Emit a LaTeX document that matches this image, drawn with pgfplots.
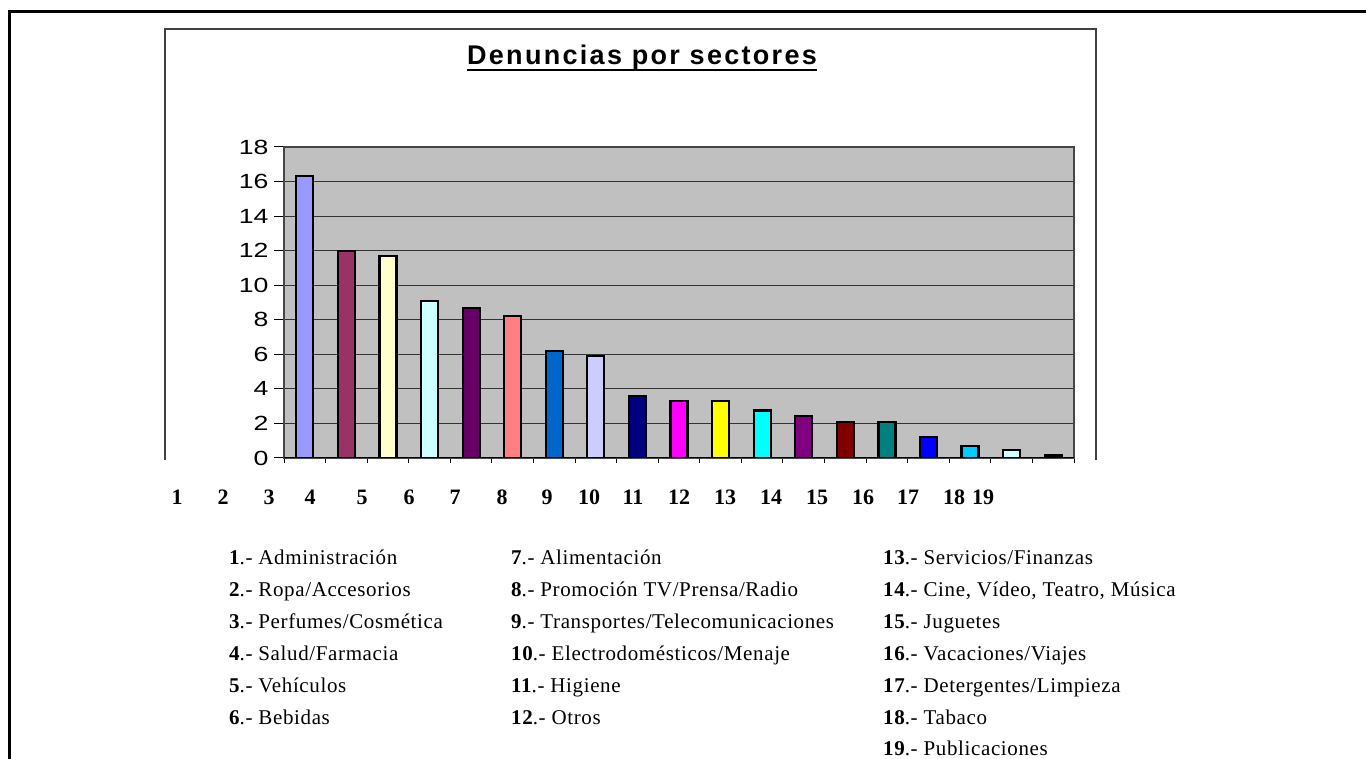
\documentclass[border=0pt]{standalone}
\usepackage{fontspec}
\setmainfont{Liberation Serif}
\newfontfamily\titlef[LetterSpace=8.5]{Liberation Sans}
\newfontfamily\tickf[FakeStretch=1.3]{Liberation Sans}
\newfontfamily\legf[LetterSpace=3]{Liberation Serif}
\usepackage{pgfplots}
\pgfplotsset{compat=1.18}
\definecolor{chartgray}{HTML}{C0C0C0}
\definecolor{c1}{HTML}{9999FF}
\definecolor{c2}{HTML}{993366}
\definecolor{c3}{HTML}{FFFFCC}
\definecolor{c4}{HTML}{CCFFFF}
\definecolor{c5}{HTML}{660066}
\definecolor{c6}{HTML}{FF8080}
\definecolor{c7}{HTML}{0066CC}
\definecolor{c8}{HTML}{CCCCFF}
\definecolor{c9}{HTML}{000080}
\definecolor{c10}{HTML}{FF00FF}
\definecolor{c11}{HTML}{FFFF00}
\definecolor{c12}{HTML}{00FFFF}
\definecolor{c13}{HTML}{800080}
\definecolor{c14}{HTML}{800000}
\definecolor{c15}{HTML}{008080}
\definecolor{c16}{HTML}{0000FF}
\definecolor{c17}{HTML}{00CCFF}
\definecolor{c18}{HTML}{CCFFFF}
\definecolor{c19}{HTML}{000000}
\begin{document}
\begin{tikzpicture}
\path[use as bounding box] (0,0) rectangle (1366pt,758pt);
\begin{axis}[
  at={(284pt,300pt)}, anchor=south west,
  scale only axis, width=790pt, height=311pt,
  xmin=0.5, xmax=19.5, ymin=0, ymax=18,
  ytick={0,2,...,18},
  xtick={0.5,1.5,...,19.5}, xticklabels={},
  xtick pos=bottom, ytick pos=left,
  tick align=outside, major tick length=10pt,
  x tick style={/pgfplots/major tick length=5pt},
  tick style={black, line width=1pt},
  ymajorgrids, grid style={draw=black!80, line width=1.2pt},
  axis background/.style={fill=chartgray},
  axis line style={draw=gray!55!black, line width=1.5pt},
  /pgf/number format/assume math mode=true,
  yticklabel style={font=\tickf\fontsize{20.5}{24}\selectfont, xshift=-2pt},
  every axis plot/.append style={ybar, bar width=17pt, bar shift=0pt, draw=black, line width=2.2pt},
]
\addplot[fill=c1] coordinates {(1,16.3)};
\addplot[fill=c2] coordinates {(2,12.0)};
\addplot[fill=c3] coordinates {(3,11.7)};
\addplot[fill=c4] coordinates {(4,9.1)};
\addplot[fill=c5] coordinates {(5,8.7)};
\addplot[fill=c6] coordinates {(6,8.2)};
\addplot[fill=c7] coordinates {(7,6.2)};
\addplot[fill=c8] coordinates {(8,5.9)};
\addplot[fill=c9] coordinates {(9,3.6)};
\addplot[fill=c10] coordinates {(10,3.3)};
\addplot[fill=c11] coordinates {(11,3.3)};
\addplot[fill=c12] coordinates {(12,2.75)};
\addplot[fill=c13] coordinates {(13,2.45)};
\addplot[fill=c14] coordinates {(14,2.1)};
\addplot[fill=c15] coordinates {(15,2.1)};
\addplot[fill=c16] coordinates {(16,1.2)};
\addplot[fill=c17] coordinates {(17,0.7)};
\addplot[fill=c18] coordinates {(18,0.45)};
\addplot[fill=c19] coordinates {(19,0.15)};
\draw[black, line width=1.5pt] (axis cs:0.5,0) -- (axis cs:19.5,0);
\end{axis}
\begin{scope}[x=1pt, y=-1pt, yshift=758pt]
  % outer frame
  \draw[black, line width=3pt] (9,770) -- (9,12) -- (1370,12);
  % inner chart frame
  \draw[black!75, line width=2pt] (165,460) -- (165,29) -- (1096,29) -- (1096,460);
  % title
  \node[anchor=base, inner sep=0pt] (t) at (642,65) {\titlef\bfseries\fontsize{27}{30}\selectfont Denuncias por sectores};
  \draw[black, line width=2pt] ([yshift=-5pt]t.base west) -- ([yshift=-5pt]t.base east);
  % category numbers
  \foreach \n/\x in {1/177,2/223,3/269,4/310,5/362,6/409,7/455,8/502,9/547,10/589,11/633,12/679,13/725,14/771,15/817,16/863,17/908,18/954,19/983}
    \node[anchor=base, inner sep=0pt] at (\x,505) {\fontsize{22}{24}\selectfont\bfseries \n};
  % legend
  \foreach \r/\txt in {0/{\textbf{1}.- Administración},1/{\textbf{2}.- Ropa/Accesorios},2/{\textbf{3}.- Perfumes/Cosmética},3/{\textbf{4}.- Salud/Farmacia},4/{\textbf{5}.- Vehículos},5/{\textbf{6}.- Bebidas}}
    \node[anchor=base west, inner sep=0pt] at (229,565+31.8*\r) {\legf\fontsize{21}{23}\selectfont \txt};
  \foreach \r/\txt in {0/{\textbf{7}.- Alimentación},1/{\textbf{8}.- Promoción TV/Prensa/Radio},2/{\textbf{9}.- Transportes/Telecomunicaciones},3/{\textbf{10}.- Electrodomésticos/Menaje},4/{\textbf{11}.- Higiene},5/{\textbf{12}.- Otros}}
    \node[anchor=base west, inner sep=0pt] at (511,565+31.8*\r) {\legf\fontsize{21}{23}\selectfont \txt};
  \foreach \r/\txt in {0/{\textbf{13}.- Servicios/Finanzas},1/{\textbf{14}.- Cine, Vídeo, Teatro, Música},2/{\textbf{15}.- Juguetes},3/{\textbf{16}.- Vacaciones/Viajes},4/{\textbf{17}.- Detergentes/Limpieza},5/{\textbf{18}.- Tabaco},6/{\textbf{19}.- Publicaciones}}
    \node[anchor=base west, inner sep=0pt] at (883,565+31.8*\r) {\legf\fontsize{21}{23}\selectfont \txt};
\end{scope}
\end{tikzpicture}
\end{document}
